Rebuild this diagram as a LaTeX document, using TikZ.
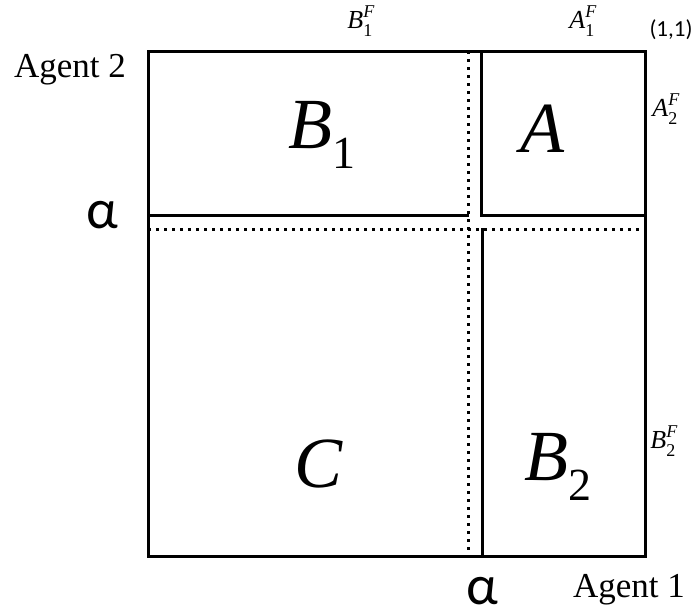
\documentclass[tikz,border=0pt]{standalone}
\usepackage{fontspec}
\setmainfont{Liberation Serif}
\newfontfamily\calib{Carlito}
\newcommand\bigsub[2]{\textit{#1}\raisebox{-0.27em}{\fontsize{46}{48}\selectfont #2}}
\newcommand\smallsubsup[3]{\textit{#1}\rlap{\raisebox{-0.3em}{\fontsize{18}{19}\selectfont #2}}\raisebox{0.42em}{\fontsize{18}{19}\selectfont\textit{#3}}}
\begin{document}
\begin{tikzpicture}[x=1pt,y=-1pt,
  solidline/.style={line width=3pt,line cap=rect,line join=miter},
  dotline/.style={line width=3pt,dash pattern=on 3pt off 5pt},
  big/.style={inner sep=0pt,font=\fontsize{72}{80}\selectfont},
  small/.style={inner sep=0pt,font=\fontsize{26}{28}\selectfont},
  agent/.style={inner sep=0pt,font=\fontsize{35}{38}\selectfont},
  alphalbl/.style={inner sep=0pt,text depth=0pt,font=\calib\fontsize{56}{60}\selectfont}]
\useasboundingbox (0,0) rectangle (696,614);
% dotted lines
\draw[dotline] (468,51) -- (468,556);
\draw[dotline] (148,229) -- (645,229);
% solid lines
\draw[solidline] (148,51) rectangle (645,556);
\draw[solidline] (148,215) -- (467,215);
\draw[solidline] (481,51) -- (481,215) -- (645,215);
\draw[solidline] (482,229) -- (482,556);
% region labels
\node[big] (b1) at (322,135) {\bigsub{B}{1}};
\node[big] (a) at (543,129) {\textit{A}};
\node[big] (c) at (319,464) {\textit{C}};
\node[big] (b2) at (558,467) {\bigsub{B}{2}};
% axis labels
\node[small] (b1f) at (361,21) {\smallsubsup{B}{1}{F}};
\node[small] (a1f) at (583,21) {\smallsubsup{A}{1}{F}};
\node[small] (a2f) at (666,109) {\smallsubsup{A}{2}{F}};
\node[small] (b2f) at (664,441) {\smallsubsup{B}{2}{F}};
\node[inner sep=0pt,font=\calib\fontsize{23}{25}\selectfont] (one) at (671,30) {(1,1)};
\node[agent] (ag2) at (70,70) {Agent 2};
\node[agent] (ag1) at (629,590) {Agent 1};
\node[alphalbl,anchor=base] (al1) at (102,228) {α};
\node[alphalbl,anchor=base] (al2) at (482,604) {α};
\end{tikzpicture}
\end{document}
